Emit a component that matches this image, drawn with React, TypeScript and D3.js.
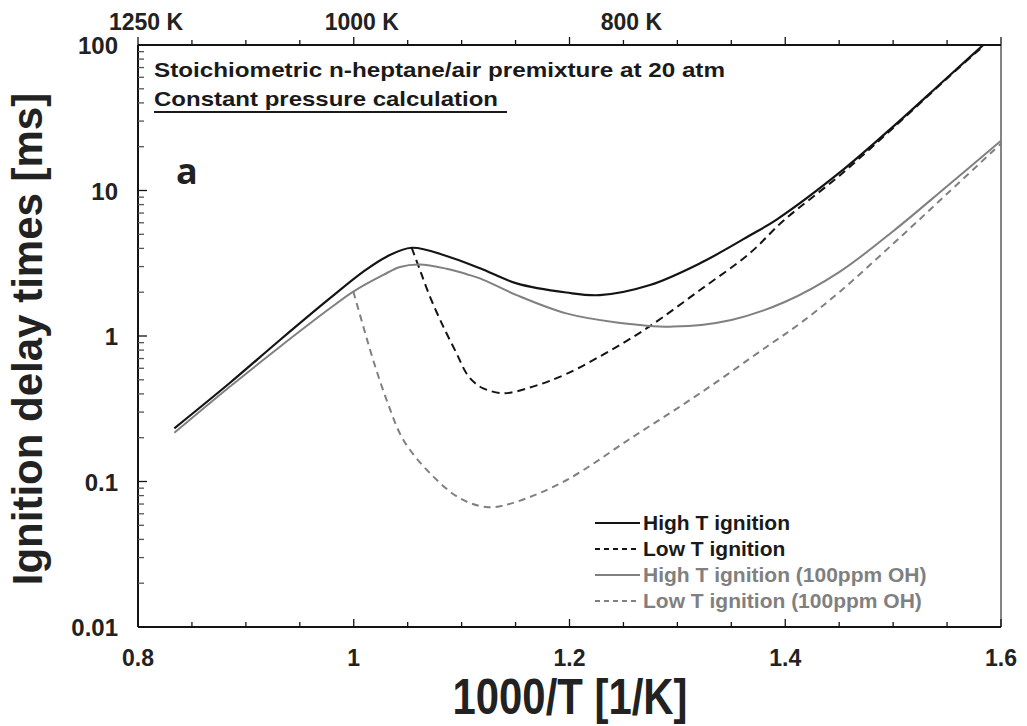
import { useEffect, useRef } from 'react';
import * as d3 from 'd3';

// 1000/T [1/K] and ignition delay [ms]
const xHigh = [0.8337, 0.8853, 0.9316, 0.978, 1.0089, 1.0305, 1.0537, 1.086, 1.117, 1.151, 1.197, 1.228, 1.2746, 1.321, 1.367, 1.392, 1.45, 1.5, 1.55, 1.6];
const tauHigh = [0.232, 0.477, 0.939, 1.82, 2.77, 3.51, 4.04, 3.55, 2.92, 2.3, 1.99, 1.91, 2.24, 3.16, 4.9, 6.31, 13.2, 27.5, 59.6, 129];

const xLow = [1.0537, 1.0614, 1.0707, 1.083, 1.0953, 1.1047, 1.1124, 1.12, 1.1386, 1.166, 1.197, 1.2437, 1.2746, 1.321, 1.367, 1.398, 1.45, 1.5, 1.55, 1.6];
const tauLow = [4.04, 2.84, 1.86, 1.16, 0.76, 0.55, 0.475, 0.437, 0.404, 0.449, 0.548, 0.843, 1.17, 2.07, 3.7, 6.17, 12.6, 26.9, 58.9, 126];

const xHighOH = [0.8337, 0.8853, 0.9316, 0.978, 0.9996, 1.0274, 1.0429, 1.061, 1.086, 1.1047, 1.117, 1.151, 1.197, 1.2437, 1.2962, 1.35, 1.4, 1.45, 1.5, 1.55, 1.6];
const tauHighOH = [0.216, 0.449, 0.844, 1.55, 2.02, 2.63, 2.98, 3.1, 2.9, 2.66, 2.49, 1.91, 1.43, 1.24, 1.16, 1.29, 1.72, 2.75, 5.25, 10.7, 22];

const xLowOH = [0.9996, 1.0089, 1.018, 1.0305, 1.046, 1.0707, 1.0985, 1.1248, 1.151, 1.197, 1.259, 1.321, 1.3828, 1.4137, 1.45, 1.5, 1.55, 1.6];
const tauLowOH = [2.02, 1.16, 0.684, 0.363, 0.193, 0.114, 0.0766, 0.0665, 0.0726, 0.102, 0.203, 0.404, 0.844, 1.22, 2.0, 4.3, 9.5, 21];

const xTicks = [0.8, 1.0, 1.2, 1.4, 1.6];
const xTickLabels = ['0.8', '1', '1.2', '1.4', '1.6'];
const yTicks = [100, 10, 1, 0.1, 0.01];
const yTickLabels = ['100', '10', '1', '0.1', '0.01'];
const topTemps = [1250, 1000, 800];

const seriesNames = ['High T ignition', 'Low T ignition', 'High T ignition (100ppm OH)', 'Low T ignition (100ppm OH)'];

const FONT = '"Liberation Sans", Arial, Helvetica, sans-serif';

const App = () => {
  const svgRef = useRef<SVGSVGElement>(null);

  useEffect(() => {
    const svg = d3.select(svgRef.current);
    svg.selectAll('*').remove();

    const left = 138, right = 1001, top = 45, bottom = 627;

    const x = d3.scaleLinear().domain([0.8, 1.6]).range([left, right]);
    const y = d3.scaleLog().domain([0.01, 100]).range([bottom, top]);

    const black = '#141414';
    const gray = '#808080';

    const series = [
      { xs: xHigh, ys: tauHigh, color: black, dash: null, width: 2.2 },
      { xs: xLow, ys: tauLow, color: black, dash: '8,5', width: 2 },
      { xs: xHighOH, ys: tauHighOH, color: gray, dash: null, width: 2 },
      { xs: xLowOH, ys: tauLowOH, color: gray, dash: '7,5', width: 2 },
    ];

    svg.append('clipPath').attr('id', 'plot-clip')
      .append('rect')
      .attr('x', left).attr('y', top)
      .attr('width', right - left).attr('height', bottom - top);

    // Curves
    const line = d3.line<[number, number]>()
      .x(d => x(d[0]))
      .y(d => y(d[1]))
      .curve(d3.curveCatmullRom.alpha(0.5));

    const curves = svg.append('g').attr('clip-path', 'url(#plot-clip)');
    series.forEach(s => {
      const pts: [number, number][] = s.xs.map((v, i) => [v, s.ys[i]]);
      curves.append('path')
        .attr('d', line(pts))
        .attr('fill', 'none')
        .attr('stroke', s.color)
        .attr('stroke-width', s.width)
        .attr('stroke-dasharray', s.dash);
    });

    // Axes frame
    const axes = svg.append('g');
    axes.append('line').attr('x1', right).attr('x2', right).attr('y1', top).attr('y2', bottom)
      .attr('stroke', '#777').attr('stroke-width', 1.8);
    axes.append('line').attr('x1', left).attr('x2', right).attr('y1', bottom).attr('y2', bottom)
      .attr('stroke', black).attr('stroke-width', 2);
    axes.append('line').attr('x1', left).attr('x2', right).attr('y1', top).attr('y2', top)
      .attr('stroke', black).attr('stroke-width', 2);
    axes.append('line').attr('x1', left).attr('x2', left).attr('y1', top).attr('y2', bottom)
      .attr('stroke', black).attr('stroke-width', 2);

    // x ticks every 0.05 on bottom (inward) and top (outward)
    const xMinor = d3.range(0, 17).map(i => 0.8 + i * 0.05);
    xMinor.forEach(v => {
      const major = xTicks.some(t => Math.abs(t - v) < 1e-6);
      const len = major ? 8 : 5;
      axes.append('line')
        .attr('x1', x(v)).attr('x2', x(v))
        .attr('y1', bottom).attr('y2', bottom - len)
        .attr('stroke', black).attr('stroke-width', 1.3);
      axes.append('line')
        .attr('x1', x(v)).attr('x2', x(v))
        .attr('y1', top).attr('y2', top - len)
        .attr('stroke', black).attr('stroke-width', 1.3);
    });

    // y log ticks on the left (inward)
    for (let e = -2; e <= 1; e++) {
      for (let m = 1; m <= 9; m++) {
        const v = m * Math.pow(10, e);
        axes.append('line')
          .attr('x1', left).attr('x2', left + (m === 1 ? 9 : 6))
          .attr('y1', y(v)).attr('y2', y(v))
          .attr('stroke', m === 1 ? black : '#555').attr('stroke-width', 1.3);
      }
    }
    axes.append('line').attr('x1', left).attr('x2', left + 9)
      .attr('y1', y(100)).attr('y2', y(100)).attr('stroke', black).attr('stroke-width', 1.3);

    // Tick labels
    svg.append('g').selectAll('text')
      .data(xTicks)
      .enter()
      .append('text')
      .attr('x', d => x(d))
      .attr('y', 666)
      .attr('text-anchor', 'middle')
      .style('font-family', FONT)
      .style('font-weight', 'bold')
      .style('font-size', '23px')
      .attr('fill', '#222')
      .text((d, i) => xTickLabels[i]);

    svg.append('g').selectAll('text')
      .data(yTicks)
      .enter()
      .append('text')
      .attr('x', 118)
      .attr('y', d => y(d) + 9)
      .attr('text-anchor', 'end')
      .style('font-family', FONT)
      .style('font-weight', 'bold')
      .style('font-size', '24px')
      .attr('fill', '#222')
      .text((d, i) => yTickLabels[i]);

    // Top temperature labels
    svg.append('g').selectAll('text')
      .data(topTemps)
      .enter()
      .append('text')
      .attr('x', d => x(1000 / d) + 8)
      .attr('y', 30)
      .attr('text-anchor', 'middle')
      .style('font-family', FONT)
      .style('font-weight', 'bold')
      .style('font-size', '23px')
      .attr('fill', '#222')
      .text(d => `${d} K`);

    // Axis titles
    svg.append('text')
      .attr('x', 570)
      .attr('y', 714)
      .attr('text-anchor', 'middle')
      .attr('textLength', 235)
      .attr('lengthAdjust', 'spacingAndGlyphs')
      .style('font-family', FONT)
      .style('font-weight', 'bold')
      .style('font-size', '50px')
      .attr('fill', '#222')
      .text('1000/T [1/K]');

    svg.append('text')
      .attr('transform', 'translate(42,339) rotate(-90)')
      .attr('text-anchor', 'middle')
      .style('font-family', FONT)
      .style('font-weight', 'bold')
      .style('font-size', '42px')
      .attr('fill', '#222')
      .text('Ignition delay times [ms]');

    // Annotations
    svg.append('text')
      .attr('x', 154)
      .attr('y', 77)
      .attr('textLength', 571)
      .attr('lengthAdjust', 'spacingAndGlyphs')
      .style('font-family', FONT)
      .style('font-weight', 'bold')
      .style('font-size', '21px')
      .attr('fill', '#1a1a1a')
      .text('Stoichiometric n-heptane/air premixture at 20 atm');

    svg.append('text')
      .attr('x', 154)
      .attr('y', 106)
      .attr('textLength', 344)
      .attr('lengthAdjust', 'spacingAndGlyphs')
      .style('font-family', FONT)
      .style('font-weight', 'bold')
      .style('font-size', '21px')
      .attr('fill', '#1a1a1a')
      .text('Constant pressure calculation');
    svg.append('line')
      .attr('x1', 154).attr('x2', 507).attr('y1', 112).attr('y2', 112)
      .attr('stroke', '#1a1a1a').attr('stroke-width', 2);

    svg.append('text')
      .attr('x', 176)
      .attr('y', 184)
      .style('font-family', '"Open Sans", "Noto Sans", sans-serif')
      .style('font-weight', 'bold')
      .style('font-size', '36px')
      .attr('fill', '#222')
      .text('a');

    // Legend
    const legend = svg.append('g');
    series.forEach((s, i) => {
      const by = 530 + i * 26;
      legend.append('line')
        .attr('x1', 595).attr('x2', 640)
        .attr('y1', by - 7).attr('y2', by - 7)
        .attr('stroke', s.color)
        .attr('stroke-width', 1.8)
        .attr('stroke-dasharray', s.dash ? '5,4' : null);
      legend.append('text')
        .attr('x', 643)
        .attr('y', by)
        .style('font-family', FONT)
        .style('font-weight', 'bold')
        .style('font-size', '21px')
        .attr('fill', i < 2 ? '#1a1a1a' : gray)
        .text(seriesNames[i]);
    });
  }, []);

  return (
    <svg
      ref={svgRef}
      width={1027}
      height={726}
      style={{ position: 'absolute', left: 0, top: 0, background: '#fff' }}
    />
  );
};

export default App;
